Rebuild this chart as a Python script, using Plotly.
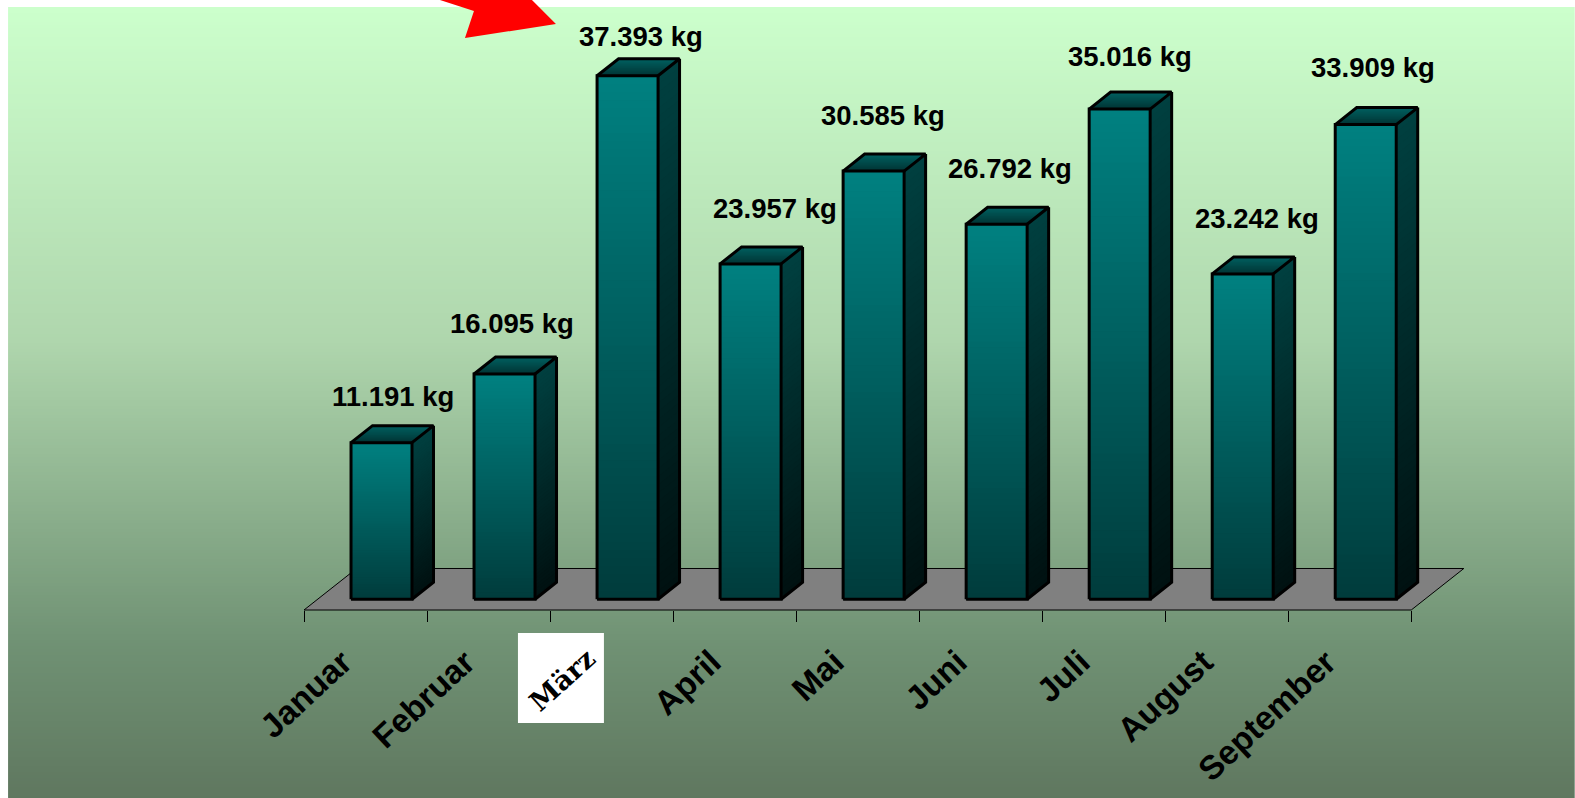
import plotly.graph_objects as go

# ---- data -------------------------------------------------------------
months = ["Januar", "Februar", "März", "April", "Mai", "Juni", "Juli", "August", "September"]
values = [11191, 16095, 37393, 23957, 30585, 26792, 35016, 23242, 33909]
value_labels = ["11.191 kg", "16.095 kg", "37.393 kg", "23.957 kg", "30.585 kg",
                "26.792 kg", "35.016 kg", "23.242 kg", "33.909 kg"]
# hand-placed label offsets (px from the middle of each bar's front top edge)
label_dx = [11.5, 7.5, 13.5, 24.5, 9.5, 13.5, 10.5, 14.5, 7.5]
label_dy = [46, 50, 39, 55, 56, 56, 53, 55, 57]

# ---- geometry ----------------------------------------------------------
W, H = 1575, 798
AXIS_END = 1411.5
L, T, B = 304, 0, 610
CAT_PX = (AXIS_END - L) / 9
XR = [-0.5, 8.75]                 # room on the right for the last bar's depth
R = L + CAT_PX * (XR[1] - XR[0])
PX_PER_UNIT = 0.01400
BAR_W = 61 / CAT_PX
BAR_SHIFT = 16 / CAT_PX
DX = 21.5 / CAT_PX
DY = 17 / PX_PER_UNIT
Y0 = -(610 - 599.3) / PX_PER_UNIT
Y1 = Y0 + (B - T) / PX_PER_UNIT


def paper_x(px):
    return (px - L) / (R - L)


def paper_y(py):
    return (B - py) / (B - T)


def mix(c0, c1, t):
    return "rgb(%d,%d,%d)" % tuple(round(a + (b - a) * t) for a, b in zip(c0, c1))


def stops_color(stops, t):
    for (t0, c0), (t1, c1) in zip(stops, stops[1:]):
        if t <= t1:
            return mix(c0, c1, (t - t0) / (t1 - t0))
    return mix(stops[-1][1], stops[-1][1], 0)


fig = go.Figure()
shapes = []

# ---- page background gradient -------------------------------------------
BG_TOP = 7
BG_STOPS = [(0, (204, 255, 204)), (0.42, (175, 214, 173)), (0.80, (112, 146, 116)), (1, (95, 119, 95))]
STEP = 3
for py in range(BG_TOP, H, STEP):
    shapes.append(dict(type="rect", xref="paper", yref="paper", layer="below",
                       x0=paper_x(8), x1=paper_x(W),
                       y0=paper_y(py), y1=paper_y(min(py + STEP, H)),
                       line_width=0,
                       fillcolor=stops_color(BG_STOPS, (py - BG_TOP) / (H - BG_TOP))))

# ---- floor --------------------------------------------------------------
fx0, fx1, fy, fbx, fby = L, AXIS_END, B, 52.6, 41.5
shapes.append(dict(type="path", xref="paper", yref="paper", layer="below",
                   path="M%f,%f L%f,%f L%f,%f L%f,%f Z" % (
                       paper_x(fx0), paper_y(fy), paper_x(fx1), paper_y(fy),
                       paper_x(fx1 + fbx), paper_y(fy - fby), paper_x(fx0 + fbx), paper_y(fy - fby)),
                   fillcolor="#808080", line=dict(color="black", width=1)))

# ---- bars: painter's algorithm, tallest band first ----------------------
N = 64
for k in range(N, 0, -1):
    f = k / N
    fig.add_trace(go.Bar(x=months, y=[v * f for v in values], width=BAR_W,
                         offset=-BAR_W / 2 + BAR_SHIFT,
                         marker=dict(color=mix((0, 59, 59), (0, 128, 128), f), line_width=0),
                         hoverinfo="skip", showlegend=False, name="front"))

centres = [i + BAR_SHIFT for i in range(len(values))]
for k in range(N, 0, -1):
    f = k / N
    xs, ys = [], []
    for c, v in zip(centres, values):
        r = c + BAR_W / 2
        xs += [r, r + DX, r + DX, r, r, None]
        ys += [0, DY, v * f + DY, v * f, 0, None]
    fig.add_trace(go.Scatter(x=xs, y=ys, xaxis="x2", yaxis="y", mode="lines", fill="toself",
                             line_width=0, fillcolor=mix((0, 16, 16), (0, 64, 64), f),
                             hoverinfo="skip", showlegend=False, name="side"))

M = 18
for k in range(M, 0, -1):
    f = k / M
    xs, ys = [], []
    for c, v in zip(centres, values):
        a, b = c - BAR_W / 2, c + BAR_W / 2
        xs += [a, b, b + DX * f, a + DX * f, a, None]
        ys += [v, v, v + DY * f, v + DY * f, v, None]
    fig.add_trace(go.Scatter(x=xs, y=ys, xaxis="x2", yaxis="y", mode="lines", fill="toself",
                             line_width=0, fillcolor=mix((0, 50, 50), (0, 96, 96), f),
                             hoverinfo="skip", showlegend=False, name="top"))

# outlines
xs, ys = [], []
for c, v in zip(centres, values):
    a, b = c - BAR_W / 2, c + BAR_W / 2
    xs += [a, b, b, a, a, None,
           a, a + DX, b + DX, b, None,
           b + DX, b + DX, b, None]
    ys += [0, 0, v, v, 0, None,
           v, v + DY, v + DY, v, None,
           v + DY, DY, 0, None]
fig.add_trace(go.Scatter(x=xs, y=ys, xaxis="x2", yaxis="y", mode="lines",
                         line=dict(color="black", width=3), hoverinfo="skip", showlegend=False,
                         name="outline"))

# ---- data labels --------------------------------------------------------
annotations = []
for c, v, t, dx, dy in zip(centres, values, value_labels, label_dx, label_dy):
    annotations.append(dict(x=c, y=v, xref="x2", yref="y", text=t, showarrow=False,
                            xanchor="center", yanchor="middle", xshift=dx, yshift=dy,
                            font=dict(family="Liberation Sans", size=27.5, color="black", weight="bold")))

# ---- the pasted "März" picture --------------------------------------------
shapes.append(dict(type="rect", xref="paper", yref="paper", layer="above",
                   x0=paper_x(518), x1=paper_x(604), y0=paper_y(633), y1=paper_y(723),
                   fillcolor="white", line_width=0))
annotations.append(dict(x=paper_x(563), y=paper_y(680), xref="paper", yref="paper", text="März",
                        showarrow=False, textangle=-42, xanchor="center", yanchor="middle",
                        font=dict(family="DejaVu Serif", size=27, color="black", weight="bold")))

# ---- red arrow ----------------------------------------------------------
arrow = [(440, 0), (474, 11), (465, 38), (556, 24), (532, 0)]
shapes.append(dict(type="path", xref="paper", yref="paper", layer="above",
                   path="M" + " L".join("%f,%f" % (paper_x(x), paper_y(y)) for x, y in arrow) + " Z",
                   fillcolor="#ff0000", line_width=0))

fig.update_layout(
    width=W, height=H, autosize=False,
    margin=dict(l=L, r=W - R, t=T, b=H - B, pad=0, autoexpand=False),
    paper_bgcolor="white", plot_bgcolor="rgba(0,0,0,0)",
    barmode="overlay", showlegend=False, shapes=shapes, annotations=annotations,
    xaxis=dict(type="category", categoryorder="array", categoryarray=months, range=XR,
               tickmode="array", tickvals=months,
               ticktext=[m if m != "März" else " " for m in months],
               tickson="boundaries", ticks="outside", ticklen=11, tickwidth=1, tickcolor="black",
               showline=False, showgrid=False, zeroline=False,
               tickangle=-43, ticklabelstandoff=25, ticklabelshift=-23,
               tickfont=dict(family="Liberation Sans", size=33.5, color="black", weight="bold")),
    xaxis2=dict(range=XR, overlaying="x", anchor="y", visible=False, showgrid=False, zeroline=False),
    yaxis=dict(range=[Y0, Y1], visible=False, showgrid=False, zeroline=False),
)

fig.write_html("out.html", config={"displayModeBar": False},
               post_script="document.body.style.margin='0';document.body.style.overflow='hidden';")
